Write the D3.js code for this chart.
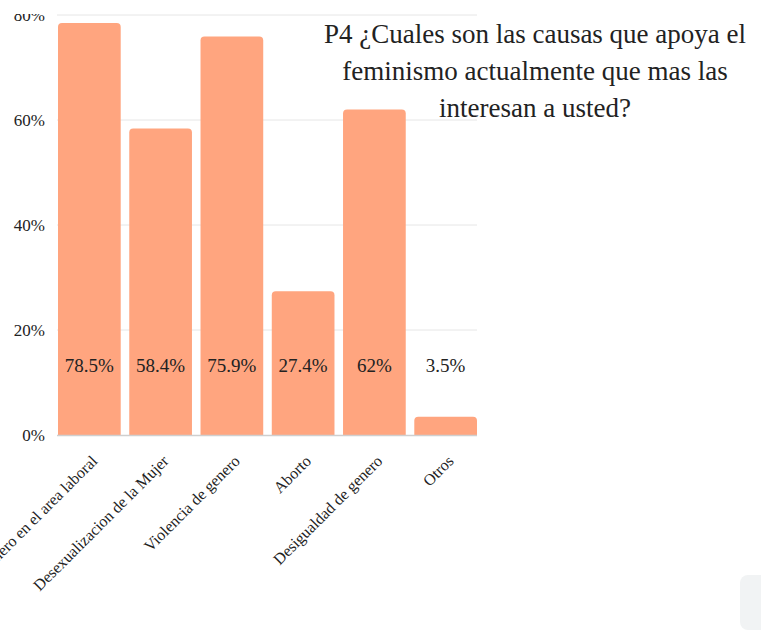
<!DOCTYPE html>
<html><head><meta charset="utf-8">
<script src="https://cdn.jsdelivr.net/npm/d3@7"></script>
<style>
html,body{margin:0;padding:0;background:#fff;overflow:hidden}
svg{display:block}
svg text{font-family:"Liberation Serif","Times New Roman","DejaVu Serif",serif}
</style></head>
<body>
<script>
const categories = ["Equidad de genero en el area laboral","Desexualizacion de la Mujer","Violencia de genero","Aborto","Desigualdad de genero","Otros"];
const values = [78.5, 58.4, 75.9, 27.4, 62, 3.5];
const valueLabels = ["78.5%","58.4%","75.9%","27.4%","62%","3.5%"];
const yTicks = [0, 20, 40, 60, 80];
const titleLines = ["P4 ¿Cuales son las causas que apoya el","feminismo actualmente que mas las","interesan a usted?"];

const W = 761, H = 630;
const svg = d3.select("body").append("svg").attr("width", W).attr("height", H);

const x = d3.scaleBand().domain(categories).range([58, 477]).paddingInner(0.12).paddingOuter(0);
const y = d3.scaleLinear().domain([0, 80]).range([435, 15]);

svg.append("defs").append("clipPath").attr("id","clipTop")
  .append("rect").attr("x",-200).attr("y",14).attr("width",W).attr("height",H);

// gridlines
svg.append("g").selectAll("line").data(yTicks.filter(d=>d>0)).join("line")
  .attr("x1", 57).attr("x2", 477)
  .attr("y1", d=>y(d)).attr("y2", d=>y(d))
  .attr("stroke", "#e6e6e6").attr("stroke-width", 1);

// y axis labels
const yAxis = d3.axisLeft(y).tickValues(yTicks).tickFormat(d=>d+"%").tickSize(0).tickPadding(0);
const gy = svg.append("g").attr("transform","translate(45,0)").attr("clip-path","url(#clipTop)").call(yAxis);
gy.attr("font-family", null);
gy.select(".domain").remove();
gy.selectAll("text").attr("font-size", 17).attr("fill","#222").attr("dy","0.32em");

// bars with rounded top
const r = 4;
svg.append("g").selectAll("path").data(values).join("path")
  .attr("fill", "#FFA57F")
  .attr("d", (d,i)=>{
    const x0 = x(categories[i]), w = x.bandwidth(), y0 = y(d), yb = y(0);
    const rr = Math.min(r, (yb-y0));
    return `M${x0},${yb}V${y0+rr}Q${x0},${y0} ${x0+rr},${y0}H${x0+w-rr}Q${x0+w},${y0} ${x0+w},${y0+rr}V${yb}Z`;
  });

// baseline
svg.append("line").attr("x1",57).attr("x2",477).attr("y1",y(0)+0.5).attr("y2",y(0)+0.5)
  .attr("stroke","#cfcfcf").attr("stroke-width",1.5);

// value labels
svg.append("g").selectAll("text").data(valueLabels).join("text")
  .attr("x", (d,i)=>x(categories[i]) + x.bandwidth()/2)
  .attr("y", 365).attr("dy","0.35em")
  .attr("text-anchor","middle")
  .attr("font-size", 19).attr("fill","#222")
  .text(d=>d);

// x labels
const xAxis = d3.axisBottom(x).tickSize(0).tickPadding(0);
const gx = svg.append("g").attr("transform",`translate(0,${y(0)})`).call(xAxis);
gx.attr("font-family", null);
gx.select(".domain").remove();
gx.selectAll("text")
  .attr("font-size", 16).attr("fill","#222")
  .attr("text-anchor","end")
  .attr("y", 0).attr("dy", 0)
  .attr("transform","translate(9,27) rotate(-45)");

// title
svg.append("text").attr("font-size", 27).attr("fill","#222")
  .attr("text-anchor","middle")
  .selectAll("tspan").data(titleLines).join("tspan")
  .attr("x", 535).attr("y", (d,i)=>43 + i*37).text(d=>d);

// decorative scroll element
svg.append("rect").attr("x",740).attr("y",575).attr("width",30).attr("height",55).attr("rx",8)
  .attr("fill","#f1f3f4");
</script>
</body></html>
